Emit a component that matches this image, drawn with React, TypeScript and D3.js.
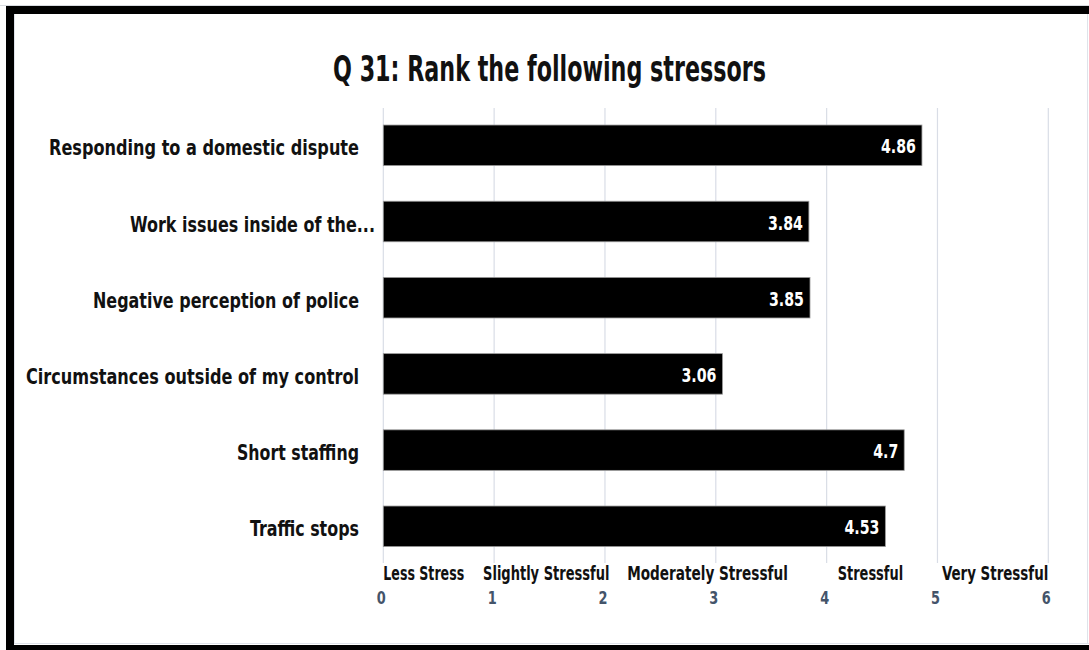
import React from "react";
import * as d3 from "d3";

const categories = [
  "Responding to a domestic dispute",
  "Work issues inside of the...",
  "Negative perception of police",
  "Circumstances outside of my control",
  "Short staffing",
  "Traffic stops",
];
const values = [4.86, 3.84, 3.85, 3.06, 4.7, 4.53];
const tickValues = [0, 1, 2, 3, 4, 5, 6];
const scaleLabels = ["Less Stress", "Slightly Stressful", "Moderately Stressful", "Stressful", "Very Stressful"];
const title = "Q 31: Rank the following stressors";

// layout (not data): where each scale word sits, in axis units, and its width in axis units
const scaleLabelStart = [0, 0.9, 2.2, 4.1, 5.04];
const scaleLabelWidth = [0.73, 1.14, 1.45, 0.59, 0.96];
// pixel widths of the category labels, to match the condensed reference font
const catLabelWidth = [310, 245, 266, 333, 122, 109];

const W = 1089;
const H = 650;
const FONT = "'Liberation Sans Narrow', 'DejaVu Sans Condensed', 'Open Sans', sans-serif";

const numWidth = (s: string) =>
  s.split("").reduce((acc, ch) => acc + (ch === "." ? 5 : 10), 0);

export default function App() {
  const x = d3.scaleLinear().domain([0, 6]).range([383.3, 1048.3]);
  const y = d3
    .scaleBand<string>()
    .domain(categories)
    .range([107.2, 564.4])
    .paddingInner(0.468)
    .paddingOuter(0.234);
  const bw = y.bandwidth();

  return (
    <svg
      width={W}
      height={H}
      style={{ position: "absolute", left: 0, top: 0, background: "#fff" }}
      fontFamily={FONT}
    >
      <rect x={0} y={0} width={W} height={H} fill="#fff" />
      {/* frame */}
      <line x1={0} x2={W} y1={5.5} y2={5.5} stroke="#d8dbe0" strokeWidth={1} />
      <rect x={10} y={10} width={1110} height={639} fill="none" stroke="#000" strokeWidth={8} />
      <line x1={14.5} x2={14.5} y1={14} y2={644} stroke="#dfe3ea" strokeWidth={1} />
      <line x1={14} x2={W} y1={643.5} y2={643.5} stroke="#dfe3ea" strokeWidth={1} />
      <line x1={1087.5} x2={1087.5} y1={14} y2={644} stroke="#dfe3ea" strokeWidth={1} />

      {/* title */}
      <text
        x={549.5}
        y={81}
        textAnchor="middle"
        fontSize={36}
        fontWeight="bold"
        fill="#111"
        textLength={433}
        lengthAdjust="spacingAndGlyphs"
      >
        {title}
      </text>

      {/* gridlines */}
      {tickValues.map((t) => (
        <line
          key={"g" + t}
          x1={x(t)}
          x2={x(t)}
          y1={108}
          y2={563}
          stroke="#d9dde6"
          strokeWidth={1.2}
        />
      ))}

      {/* bars */}
      {categories.map((c, i) => (
        <rect
          key={"b" + c}
          x={x(0)}
          y={y(c)}
          width={x(values[i]) - x(0)}
          height={bw}
          fill="#000"
          stroke="#9a9a9a"
          strokeWidth={0.8}
        />
      ))}

      {/* data labels */}
      {categories.map((c, i) => (
        <text
          key={"v" + c}
          x={x(values[i]) - 6}
          y={(y(c) as number) + bw / 2 + 8}
          textAnchor="end"
          fontSize={20}
          fontWeight="bold"
          fill="#fff"
          textLength={numWidth(String(values[i]))}
          lengthAdjust="spacingAndGlyphs"
        >
          {String(values[i])}
        </text>
      ))}

      {/* category labels */}
      {categories.map((c, i) => (
        <text
          key={"c" + c}
          x={c.endsWith("...") ? 375 : 359}
          y={(y(c) as number) + bw / 2 + 10}
          textAnchor="end"
          fontSize={22}
          fontWeight="bold"
          fill="#111"
          textLength={catLabelWidth[i]}
          lengthAdjust="spacingAndGlyphs"
        >
          {c}
        </text>
      ))}

      {/* scale words */}
      {scaleLabels.map((s, i) => (
        <text
          key={"s" + s}
          x={x(scaleLabelStart[i])}
          y={580}
          textAnchor="start"
          fontSize={19}
          fontWeight="bold"
          fill="#111"
          textLength={x(scaleLabelWidth[i]) - x(0)}
          lengthAdjust="spacingAndGlyphs"
        >
          {s}
        </text>
      ))}

      {/* tick numbers */}
      {tickValues.map((t) => (
        <text
          key={"t" + t}
          x={x(t) - 2}
          y={604}
          textAnchor="middle"
          fontSize={17}
          fontWeight="bold"
          fill="#44546a"
          textLength={9}
          lengthAdjust="spacingAndGlyphs"
        >
          {t}
        </text>
      ))}
    </svg>
  );
}
